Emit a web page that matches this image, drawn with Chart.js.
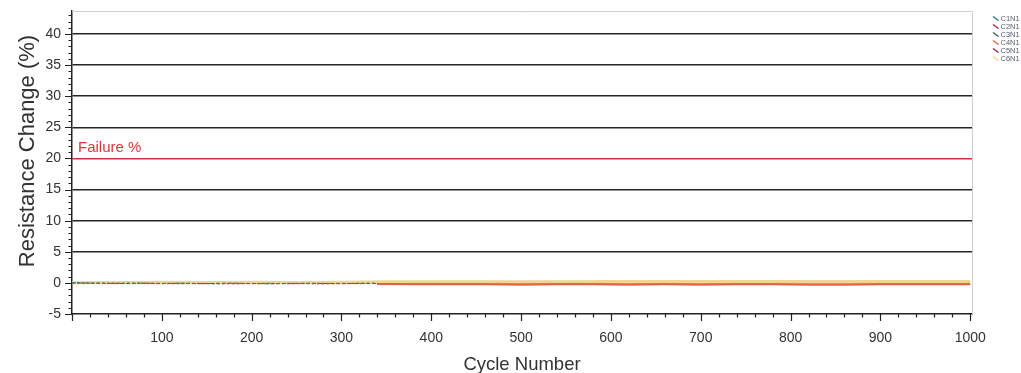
<!DOCTYPE html>
<html><head><meta charset="utf-8">
<script src="https://cdn.jsdelivr.net/npm/chart.js@4.4.1/dist/chart.umd.min.js"></script>
<style>html,body{margin:0;padding:0;background:#fff;overflow:hidden}#wrap{width:1021px;height:373px;position:relative}</style>
</head><body><div id="wrap"><canvas id="c" width="1021" height="373"></canvas></div>
<script>
// ---- data ----
const seriesNames = ['C1N1', 'C2N1', 'C3N1', 'C4N1', 'C5N1', 'C6N1'];
const seriesColors = ['#2a7f82', '#b02a44', '#44665a', '#e0643c', '#a82446', '#f0d68e'];
const cyclesEarly = [0, 20, 40, 60, 80, 100, 120, 140, 160, 180, 200, 220, 240, 260, 280, 300, 320, 340];
const cyclesLate = [340, 380, 420, 460, 500, 540, 580, 620, 660, 700, 740, 780, 820, 860, 900, 940, 980, 1000];
const cyclesFull = [0, 50, 100, 150, 200, 250, 300, 350, 400, 450, 500, 550, 600, 650, 700, 750, 800, 850, 900, 950, 1000];
const c1n1 = [0.00, -0.05, -0.10, -0.02, -0.08, -0.12, -0.05, -0.10, -0.15, -0.08, -0.12, -0.06, -0.14, -0.10, -0.07, -0.12, -0.09, -0.05];
const c2n1 = [0.00, -0.08, -0.04, -0.12, -0.06, -0.10, -0.14, -0.07, -0.11, -0.15, -0.09, -0.13, -0.08, -0.12, -0.16, -0.10, -0.06, -0.08];
const c3n1 = [0.00, -0.03, -0.07, -0.11, -0.04, -0.09, -0.06, -0.13, -0.08, -0.05, -0.10, -0.14, -0.09, -0.06, -0.11, -0.08, -0.12, -0.10];
const c4n1 = [-0.18, -0.20, -0.22, -0.21, -0.24, -0.22, -0.23, -0.25, -0.22, -0.24, -0.23, -0.22, -0.24, -0.25, -0.23, -0.22, -0.21, -0.20];
const c5n1 = [-0.20, -0.22, -0.23, -0.22, -0.24, -0.23, -0.23, -0.24, -0.23, -0.24, -0.23, -0.23, -0.24, -0.24, -0.23, -0.23, -0.22, -0.21];
const c6n1 = [0.05, 0.04, 0.06, 0.05, 0.06, 0.05, 0.07, 0.14, 0.15, 0.16, 0.17, 0.17, 0.18, 0.18, 0.19, 0.19, 0.20, 0.20, 0.20, 0.21, 0.21];
const xTickValues = [100, 200, 300, 400, 500, 600, 700, 800, 900, 1000];
const yTickValues = [-5, 0, 5, 10, 15, 20, 25, 30, 35, 40];
const failureLevel = 20;
const failureLabel = 'Failure %';
const xTitle = 'Cycle Number';
const yTitle = 'Resistance Change (%)';

function pts(xs, ys) { return xs.map((x, i) => ({ x: x, y: ys[i] })); }
const seriesData = [pts(cyclesEarly, c1n1), pts(cyclesEarly, c2n1), pts(cyclesEarly, c3n1),
                    pts(cyclesLate, c4n1), pts(cyclesLate, c5n1), pts(cyclesFull, c6n1)];
const widths = [1, 1, 1, 2, 1.5, 3.4];
const dashes = [[3, 2], [2, 3], [4, 2], [], [], []];

const FONT = '"Liberation Sans", Arial, sans-serif';

const decor = {
  id: 'decor',
  afterDraw(chart) {
    const ctx = chart.ctx, a = chart.chartArea;
    const xs = chart.scales.x, ys = chart.scales.y;
    ctx.save();
    // top and right frame
    ctx.strokeStyle = '#cfcfcf'; ctx.lineWidth = 1;
    ctx.beginPath();
    ctx.moveTo(a.left, a.top + 0.5); ctx.lineTo(a.right + 0.5, a.top + 0.5);
    ctx.lineTo(a.right + 0.5, a.bottom);
    ctx.stroke();
    // minor / major tick marks
    ctx.strokeStyle = '#222'; ctx.lineWidth = 1.2;
    ctx.beginPath();
    for (let v = -5; v <= 43; v++) {
      const p = Math.round(ys.getPixelForValue(v)) + 0.5;
      const len = (v % 5 === 0) ? 7 : 3.5;
      ctx.moveTo(a.left - len, p); ctx.lineTo(a.left, p);
    }
    for (let v = 0; v <= 1000; v += 20) {
      const p = Math.round(xs.getPixelForValue(v)) + 0.5;
      const len = (v % 100 === 0) ? 7 : 3.5;
      ctx.moveTo(p, a.bottom); ctx.lineTo(p, a.bottom + len);
    }
    ctx.stroke();
    // failure label
    ctx.fillStyle = '#e3313c';
    ctx.font = '15px ' + FONT;
    ctx.textAlign = 'left'; ctx.textBaseline = 'alphabetic';
    ctx.fillText(failureLabel, a.left + 6, ys.getPixelForValue(failureLevel) - 6.5);
    // axis titles
    ctx.fillStyle = '#333';
    ctx.font = '18.5px ' + FONT;
    ctx.textAlign = 'center';
    ctx.fillText(xTitle, (a.left + a.right) / 2, 370);
    ctx.save();
    ctx.translate(34, 151);
    ctx.rotate(-Math.PI / 2);
    ctx.font = '22px ' + FONT;
    ctx.fillText(yTitle, 0, 0);
    ctx.restore();
    // legend
    ctx.font = '7.5px ' + FONT;
    ctx.textAlign = 'left'; ctx.textBaseline = 'middle';
    chart.data.datasets.forEach((ds, i) => {
      const y = 19 + i * 8;
      ctx.strokeStyle = ds.borderColor; ctx.lineWidth = 1.4;
      ctx.beginPath(); ctx.moveTo(993, y - 2.5); ctx.lineTo(998.5, y + 1.5); ctx.stroke();
      ctx.fillStyle = '#5a6070';
      ctx.fillText(ds.label, 1000.5, y);
    });
    ctx.restore();
  }
};

new Chart(document.getElementById('c'), {
  type: 'line',
  data: {
    datasets: seriesNames.map((n, i) => ({
      label: n, data: seriesData[i], borderColor: seriesColors[i], backgroundColor: seriesColors[i],
      borderWidth: widths[i], borderDash: dashes[i], pointRadius: 0, tension: 0, fill: false
    }))
  },
  options: {
    responsive: false, animation: false, devicePixelRatio: 1,
    layout: { padding: { top: 11, right: 49, left: 0, bottom: 0 } },
    plugins: { legend: { display: false }, tooltip: { enabled: false } },
    scales: {
      x: {
        type: 'linear', min: 0, max: 1002,
        afterFit: s => { s.height = 59; s.paddingLeft = 0; s.paddingRight = 0; },
        afterBuildTicks: s => { s.ticks = xTickValues.map(v => ({ value: v })); },
        ticks: { padding: 16, color: '#333', font: { family: FONT, size: 14 }, maxRotation: 0, autoSkip: false,
                 callback: v => String(v) },
        grid: { display: true, drawOnChartArea: false, drawTicks: false, color: 'rgba(0,0,0,0)' },
        border: { display: true, color: '#222', width: 1.5 }
      },
      y: {
        type: 'linear', min: -5, max: 43.7,
        afterFit: s => { s.width = 72; s.paddingTop = 0; s.paddingBottom = 0; },
        afterBuildTicks: s => { s.ticks = yTickValues.map(v => ({ value: v })); },
        ticks: { padding: 11, color: '#333', font: { family: FONT, size: 14 }, autoSkip: false,
                 callback: v => String(v) },
        grid: {
          drawTicks: false,
          color: c => (c.tick && c.tick.value === failureLevel) ? '#c8343e' : ((c.tick && c.tick.value > 0) ? '#262626' : 'rgba(0,0,0,0)'),
          lineWidth: c => (c.tick && c.tick.value === failureLevel) ? 1.5 : 1.6
        },
        border: { display: true, color: '#222', width: 1.5 }
      }
    }
  },
  plugins: [decor]
});
</script>
</body></html>
